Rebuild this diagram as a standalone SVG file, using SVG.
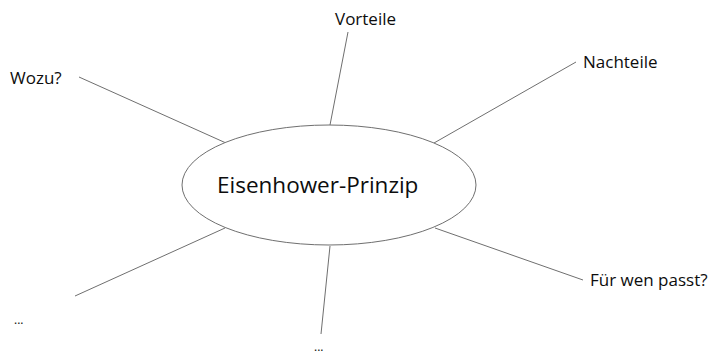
<svg xmlns="http://www.w3.org/2000/svg" width="710" height="355" viewBox="0 0 710 355">
  <style>
    .bg { fill: #ffffff; }
    .edge { stroke: #6f6f6f; stroke-width: 1; fill: none; }
    .hub { fill: #ffffff; stroke: #6f6f6f; stroke-width: 1; }
    .label { font-family: "Open Sans", "Noto Sans", sans-serif; font-size: 17px; fill: #0d0d0d; }
    .title { font-family: "Open Sans", "Noto Sans", sans-serif; font-size: 22.5px; fill: #0d0d0d; }
    .dots { font-family: "Open Sans", "Noto Sans", sans-serif; font-size: 12px; fill: #0d0d0d; }
  </style>
  <rect class="bg" x="0" y="0" width="710" height="355"/>

  <!-- spokes from the centre ellipse out to each label -->
  <g id="connectors">
    <line class="edge" x1="79" y1="77" x2="226" y2="143"/>
    <line class="edge" x1="348" y1="32" x2="330" y2="125"/>
    <line class="edge" x1="576" y1="62" x2="434" y2="143"/>
    <line class="edge" x1="225" y1="228" x2="75" y2="296"/>
    <line class="edge" x1="330" y1="246" x2="321" y2="334"/>
    <line class="edge" x1="435" y1="228" x2="583" y2="280"/>
  </g>

  <g id="center">
    <ellipse class="hub" cx="329" cy="185" rx="147" ry="60"/>
    <text class="title" x="217" y="193">Eisenhower-Prinzip</text>
  </g>

  <g id="node-wozu"><text class="label" x="10" y="84">Wozu?</text></g>
  <g id="node-vorteile"><text class="label" x="335" y="25">Vorteile</text></g>
  <g id="node-nachteile"><text class="label" x="583" y="68">Nachteile</text></g>
  <g id="node-fuer-wen"><text class="label" x="590" y="286">Für wen passt?</text></g>
  <g id="node-more-left"><text class="dots" x="14" y="324">...</text></g>
  <g id="node-more-bottom"><text class="dots" x="314" y="351">...</text></g>
</svg>
